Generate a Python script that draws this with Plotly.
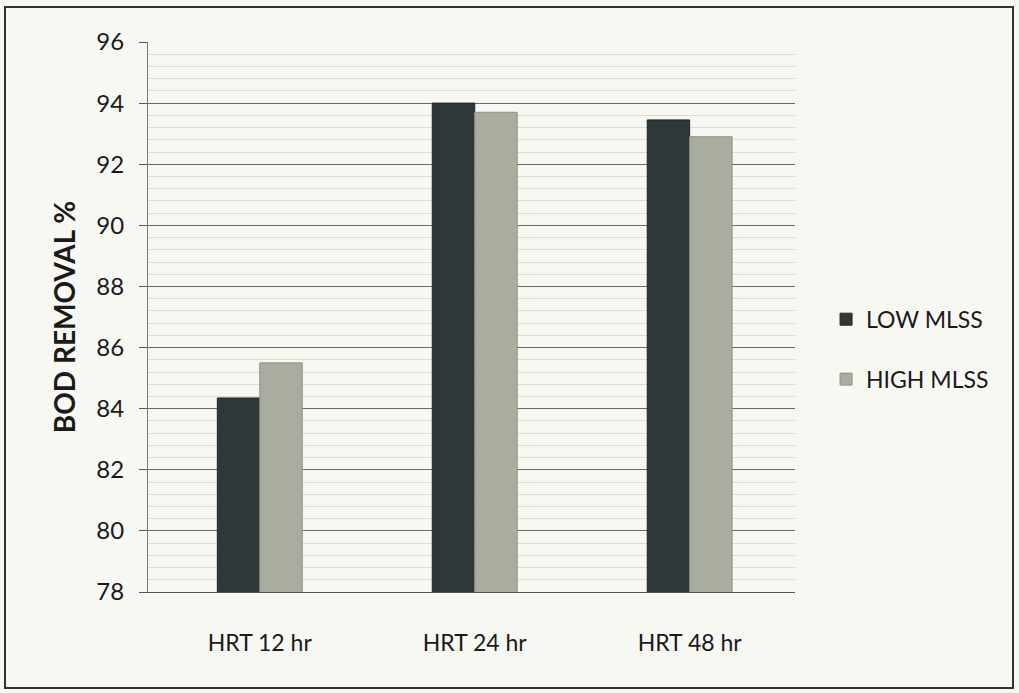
import plotly.graph_objects as go

categories = ["HRT 12 hr", "HRT 24 hr", "HRT 48 hr"]
low_mlss = [84.35, 94.0, 93.45]
high_mlss = [85.5, 93.7, 92.9]
y_ticks = [78, 80, 82, 84, 86, 88, 90, 92, 94, 96]

FONT = "Lato, 'Open Sans', sans-serif"

fig = go.Figure()
fig.add_trace(go.Bar(x=categories, y=low_mlss, name="LOW MLSS", legendgroup="a",
                     marker=dict(color="#2e3838", line=dict(color="#1e2626", width=1))))
fig.add_trace(go.Bar(x=categories, y=high_mlss, name="HIGH MLSS", legendgroup="b",
                     marker=dict(color="#a8ad9f", line=dict(color="#8e9386", width=1))))

fig.update_layout(
    width=1019, height=693,
    paper_bgcolor="#f8f8f3", plot_bgcolor="#f8f8f3",
    margin=dict(l=148, r=224, t=42, b=101),
    barmode="group", bargap=0.605, bargroupgap=0,
    font=dict(family=FONT, color="#1a1a1a"),
    showlegend=True,
    legend=dict(x=1.048, y=0.535, xanchor="left", yanchor="top",
                font=dict(size=23, family=FONT, color="#1a1a1a"),
                traceorder="grouped", tracegroupgap=27,
                bgcolor="rgba(0,0,0,0)", itemwidth=30),
    xaxis=dict(range=[-0.52, 2.49], showgrid=False, showline=True, linecolor="#555", linewidth=1,
               ticks="", tickfont=dict(size=23, family=FONT), ticklabelstandoff=30),
    yaxis=dict(range=[78, 96], tickvals=y_ticks, ticktext=[str(v) for v in y_ticks],
               showgrid=True, gridcolor="#6a6a66", gridwidth=1.2,
               showline=True, linecolor="#777", linewidth=1,
               ticks="outside", ticklen=8, tickcolor="#555",
               tickfont=dict(size=24, family=FONT), ticklabelstandoff=10,
               title=dict(text="<b>BOD REMOVAL %</b>", font=dict(size=28, family=FONT), standoff=12),
               minor=dict(dtick=0.4, showgrid=True, gridcolor="#dcdcd2", gridwidth=1, ticks="")),
)

fig.add_shape(type="rect", xref="paper", yref="paper",
              x0=-143/647, x1=(1013-148)/647, y0=-(688-592)/550, y1=1 + 35/550,
              line=dict(color="#333", width=2), fillcolor="rgba(0,0,0,0)", layer="below")

fig.write_html("out.html", config={"displayModeBar": False},
               post_script="document.body.style.margin='0';document.body.style.overflow='hidden';")
